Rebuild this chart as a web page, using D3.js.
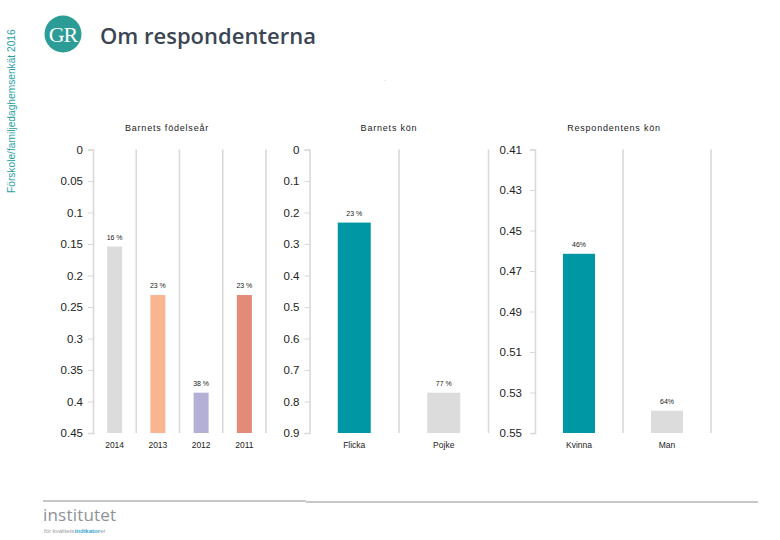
<!DOCTYPE html>
<html><head><meta charset="utf-8">
<script src="https://cdn.jsdelivr.net/npm/d3@7"></script>
<style>
html,body{margin:0;padding:0;background:#fff;}
svg{display:block;}
</style></head>
<body>
<svg id="chart" width="780" height="540"></svg>
<script>
// ---- data ----
const yearCategories = ["2014", "2013", "2012", "2011"];
const yearValues = [0.154, 0.231, 0.386, 0.231];
const yearLabels = ["16 %", "23 %", "38 %", "23 %"];
const yearColors = ["#dcdcdc", "#f8b590", "#b4afd4", "#e38a78"];
const yearTicks = [0, 0.05, 0.1, 0.15, 0.2, 0.25, 0.3, 0.35, 0.4, 0.45];

const childSexCategories = ["Flicka", "Pojke"];
const childSexValues = [0.232, 0.772];
const childSexLabels = ["23 %", "77 %"];
const childSexColors = ["#0097a4", "#dcdcdc"];
const childSexTicks = [0, 0.1, 0.2, 0.3, 0.4, 0.5, 0.6, 0.7, 0.8, 0.9];

const respSexCategories = ["Kvinna", "Man"];
const respSexValues = [0.4615, 0.539];
const respSexLabels = ["46%", "64%"];
const respSexColors = ["#0097a4", "#dcdcdc"];
const respSexTicks = [0.41, 0.43, 0.45, 0.47, 0.49, 0.51, 0.53, 0.55];

const panelTitles = ["Barnets födelseår", "Barnets kön", "Respondentens kön"];

// ---- drawing ----
const svg = d3.select("#chart");
const font = "'Liberation Sans', Arial, sans-serif";

// side vertical text
svg.append("text")
  .attr("transform", "translate(15,193) rotate(-90)")
  .attr("font-family", font).attr("font-size", 10.2)
  .attr("fill", "#2a9fa8")
  .text("Förskole/familjedaghemsenkät 2016");

// GR logo
svg.append("circle").attr("cx", 63).attr("cy", 34).attr("r", 18.5).attr("fill", "#2b9c96");
svg.append("text").attr("x", 63).attr("y", 42).attr("text-anchor", "middle")
  .attr("font-family", "'Liberation Serif', serif").attr("font-size", 22)
  .attr("fill", "#fff").attr("letter-spacing", -1).text("GR");

// title
svg.append("text").attr("x", 100).attr("y", 44)
  .attr("font-family", "'Open Sans', sans-serif").attr("font-weight", 600)
  .attr("font-size", 22).attr("fill", "#3b4654").text("Om respondenterna");

svg.append("text").attr("x", 384).attr("y", 81).attr("font-family", font)
  .attr("font-size", 6).attr("fill", "#999").text(".");

const yTop = 149.5, yBottom = 433;

function panel(cfg) {
  const g = svg.append("g");
  const x = d3.scaleBand().domain(cfg.cats).range([cfg.x0, cfg.x1]).paddingInner(0).paddingOuter(0);
  const y = d3.scaleLinear().domain([cfg.ticks[0], cfg.ticks[cfg.ticks.length - 1]]).range([yTop, yBottom]);

  // separators
  g.selectAll("line.sep").data(cfg.cats).enter().append("line")
    .attr("x1", d => x(d) + x.bandwidth()).attr("x2", d => x(d) + x.bandwidth())
    .attr("y1", yTop).attr("y2", yBottom)
    .attr("stroke", "#d9d9d9").attr("stroke-width", 1.6);

  // axis
  const axis = d3.axisLeft(y).tickValues(cfg.ticks).tickFormat(d => String(d)).tickSize(5).tickPadding(cfg.pad);
  const ag = g.append("g").attr("transform", `translate(${cfg.x0},0)`).call(axis);
  ag.select(".domain").attr("stroke", "#d9d9d9").attr("stroke-width", 1.6);
  ag.selectAll(".tick line").attr("stroke", "#d9d9d9").attr("stroke-width", 1);
  ag.selectAll(".tick text").attr("font-family", font).attr("font-size", 11.5).attr("fill", "#222");

  const bw = cfg.barW;
  // bars
  g.selectAll("rect.bar").data(cfg.vals).enter().append("rect")
    .attr("x", (d, i) => x(cfg.cats[i]) + x.bandwidth() / 2 - bw / 2)
    .attr("width", bw)
    .attr("y", d => y(d))
    .attr("height", d => yBottom - y(d))
    .attr("fill", (d, i) => cfg.colors[i]);

  // value labels
  g.selectAll("text.val").data(cfg.vals).enter().append("text")
    .attr("x", (d, i) => x(cfg.cats[i]) + x.bandwidth() / 2)
    .attr("y", d => y(d) - 7)
    .attr("text-anchor", "middle")
    .attr("font-family", font).attr("font-size", 7).attr("fill", "#222")
    .text((d, i) => cfg.labels[i]);

  // category labels
  g.selectAll("text.cat").data(cfg.cats).enter().append("text")
    .attr("x", d => x(d) + x.bandwidth() / 2)
    .attr("y", 448)
    .attr("text-anchor", "middle")
    .attr("font-family", font).attr("font-size", 8.5).attr("fill", "#222")
    .text(d => d);

  // title
  g.append("text").attr("x", cfg.titleX).attr("y", 131)
    .attr("text-anchor", "middle")
    .attr("font-family", font).attr("font-size", 9).attr("letter-spacing", 0.8)
    .attr("fill", "#222").text(cfg.title);
}

panel({cats: yearCategories, vals: yearValues, labels: yearLabels, colors: yearColors,
  ticks: yearTicks, x0: 93, x1: 266, barW: 15, pad: 5, title: panelTitles[0], titleX: 167});
panel({cats: childSexCategories, vals: childSexValues, labels: childSexLabels, colors: childSexColors,
  ticks: childSexTicks, x0: 309.5, x1: 488.5, barW: 33, pad: 5, title: panelTitles[1], titleX: 389});
panel({cats: respSexCategories, vals: respSexValues, labels: respSexLabels, colors: respSexColors,
  ticks: respSexTicks, x0: 535, x1: 711, barW: 32, pad: 8, title: panelTitles[2], titleX: 614});

// footer lines
svg.append("line").attr("x1", 43).attr("x2", 306).attr("y1", 501).attr("y2", 501)
  .attr("stroke", "#8c9195").attr("stroke-width", 1);
svg.append("line").attr("x1", 306).attr("x2", 758).attr("y1", 502).attr("y2", 502)
  .attr("stroke", "#8c9195").attr("stroke-width", 1);

// institutet logo
svg.append("text").attr("x", 43).attr("y", 521)
  .attr("font-family", "'Open Sans', sans-serif").attr("font-size", 17)
  .attr("fill", "#8e9398").attr("letter-spacing", 0.2).text("institutet");
const subParts = [
  {t: "för kvalitets", c: "#9a9ea2", w: "normal"},
  {t: "indikator", c: "#3aa5d6", w: "bold"},
  {t: "er", c: "#9a9ea2", w: "normal"}
];
let sx = 44;
subParts.forEach(p => {
  const el = svg.append("text").attr("x", sx).attr("y", 532.5)
    .attr("font-family", font).attr("font-size", 6).attr("font-weight", p.w)
    .attr("fill", p.c).text(p.t);
  sx += el.node().getComputedTextLength() + 0.3;
});
</script>
</body></html>
